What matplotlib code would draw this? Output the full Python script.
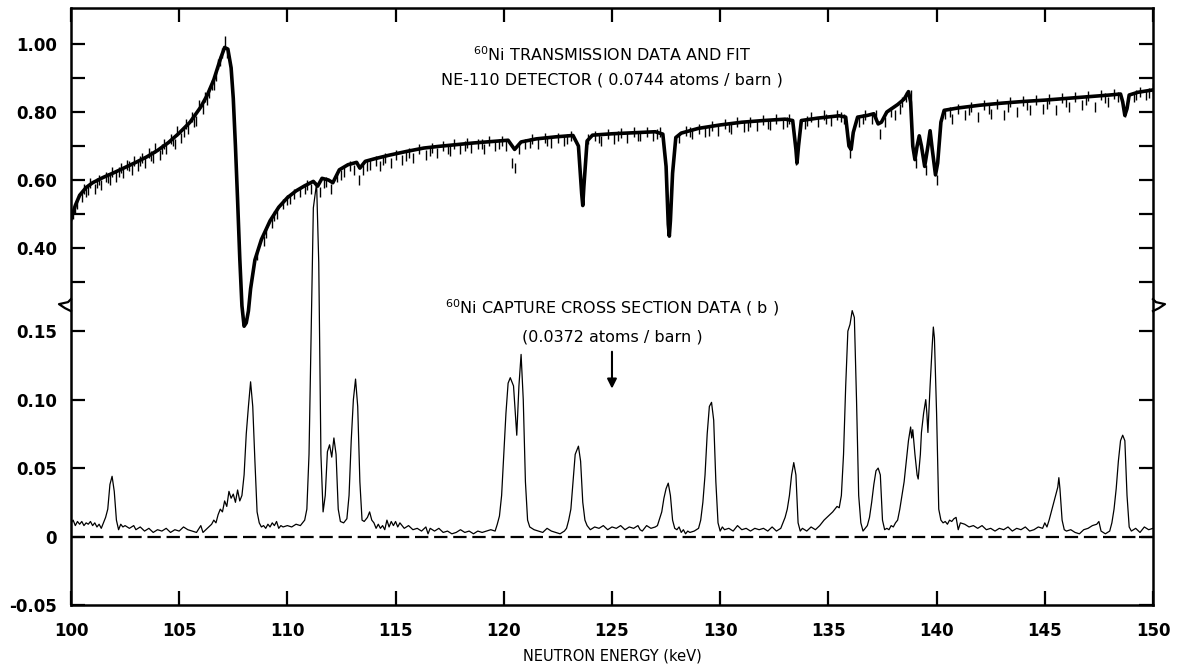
import matplotlib
matplotlib.use("Agg")
import matplotlib.pyplot as plt
from matplotlib.lines import Line2D

plt.rcParams["font.family"] = ["DejaVu Sans"]
plt.rcParams["mathtext.default"] = "regular"

# ---------------------------------------------------------------
# data
# ---------------------------------------------------------------
# transmission fit (upper scale)
fit_energy = [
    100.0, 100.2, 100.4, 100.7, 101.0, 101.5, 102.0, 102.5, 103.0, 103.5,
    104.0, 104.5, 105.0, 105.5, 106.0, 106.3, 106.6, 106.9, 107.1, 107.25,
    107.4, 107.5, 107.6, 107.7, 107.8, 107.9, 108.0, 108.1, 108.2, 108.3,
    108.5, 108.8, 109.2, 109.6, 110.0, 110.4, 110.8, 111.2, 111.4, 111.6,
    111.9, 112.1, 112.4, 112.8, 113.2, 113.35, 113.6, 114.0, 114.7, 115.5,
    116.3, 117.0, 117.8, 118.6, 119.4, 120.2, 120.5, 120.8, 121.5, 122.4,
    123.2, 123.45, 123.6, 123.65, 123.7, 123.85, 124.1, 125.0, 126.0, 127.0,
    127.35, 127.5, 127.6, 127.65, 127.7, 127.8, 127.95, 128.2, 129.0, 130.0,
    131.0, 132.0, 133.0, 133.35, 133.5, 133.55, 133.62, 133.75, 134.5, 135.5,
    135.8, 135.95, 136.05, 136.15, 136.35, 136.8, 137.1, 137.3, 137.45, 137.7,
    138.2, 138.5, 138.7, 138.8, 138.9, 139.0, 139.1, 139.2, 139.3, 139.45,
    139.6, 139.7, 139.8, 139.95, 140.05, 140.2, 140.35, 141.0, 142.0, 143.0,
    144.0, 145.0, 146.0, 147.0, 148.0, 148.5, 148.6, 148.7, 148.8, 148.9,
    149.3, 150.0,
]
fit_trans = [
    0.485, 0.525, 0.555, 0.578, 0.592, 0.608, 0.622, 0.637, 0.652, 0.668,
    0.687, 0.710, 0.738, 0.770, 0.815, 0.850, 0.895, 0.955, 0.990, 0.985,
    0.930, 0.840, 0.700, 0.540, 0.370, 0.230, 0.170, 0.180, 0.215, 0.280,
    0.365, 0.425, 0.480, 0.520, 0.548, 0.568, 0.583, 0.596, 0.582, 0.605,
    0.600, 0.592, 0.630, 0.645, 0.652, 0.635, 0.655, 0.662, 0.673, 0.684,
    0.694, 0.699, 0.704, 0.709, 0.713, 0.717, 0.690, 0.712, 0.721, 0.727,
    0.731, 0.700, 0.560, 0.525, 0.580, 0.715, 0.732, 0.736, 0.739, 0.742,
    0.735, 0.640, 0.470, 0.435, 0.480, 0.620, 0.725, 0.738, 0.752, 0.762,
    0.770, 0.775, 0.779, 0.775, 0.690, 0.650, 0.700, 0.775, 0.782, 0.789,
    0.785, 0.700, 0.690, 0.740, 0.785, 0.790, 0.795, 0.765, 0.770, 0.800,
    0.822, 0.838, 0.860, 0.830, 0.700, 0.660, 0.700, 0.730, 0.700, 0.640,
    0.700, 0.745, 0.690, 0.615, 0.650, 0.770, 0.805, 0.812, 0.820, 0.826,
    0.831, 0.835, 0.840, 0.845, 0.850, 0.853, 0.830, 0.790, 0.810, 0.850,
    0.858, 0.865,
]

# transmission data points (upper scale)
data_energy = [
    100.1, 100.3, 100.5, 100.6, 100.8, 100.9, 101.1, 101.3, 101.4, 101.6,
    101.8, 101.9, 102.1, 102.3, 102.4, 102.6, 102.8, 102.9, 103.1, 103.3,
    103.4, 103.6, 103.8, 103.9, 104.1, 104.3, 104.4, 104.6, 104.8, 104.9,
    105.1, 105.3, 105.4, 105.6, 105.8, 105.9, 106.1, 106.2, 106.4, 106.5,
    106.7, 106.8, 107.0, 107.1, 107.2, 108.6, 108.9, 109.0, 109.3, 109.5,
    109.8, 110.1, 110.3, 110.6, 110.9, 111.1, 111.5, 111.8, 112.0, 112.3,
    112.6, 112.9, 113.1, 113.3, 113.5, 113.8, 114.1, 114.3, 114.5, 114.8,
    115.0, 115.3, 115.6, 115.8, 116.1, 116.4, 116.7, 116.9, 117.2, 117.5,
    117.7, 118.0, 118.3, 118.5, 118.8, 119.1, 119.3, 119.6, 119.9, 120.1,
    120.4, 120.5, 120.7, 121.0, 121.3, 121.6, 121.9, 122.2, 122.5, 122.8,
    123.1, 123.9, 124.2, 124.5, 124.8, 125.1, 125.4, 125.7, 126.0, 126.3,
    126.6, 126.9, 127.2, 128.1, 128.4, 128.7, 129.0, 129.3, 129.6, 129.9,
    130.2, 130.5, 130.8, 131.1, 131.4, 131.7, 132.0, 132.3, 132.6, 132.9,
    133.2, 133.5, 133.9, 134.2, 134.5, 134.8, 135.1, 135.4, 135.7, 136.0,
    136.4, 136.7, 137.0, 137.4, 137.6, 137.9, 138.1, 138.4, 138.6, 138.8,
    139.05, 139.5, 140.0, 140.4, 140.7, 141.0, 141.3, 141.6, 141.9, 142.2,
    142.5, 142.8, 143.1, 143.4, 143.7, 144.0, 144.3, 144.6, 144.9, 145.2,
    145.5, 145.8, 146.1, 146.4, 146.7, 147.0, 147.3, 147.6, 147.9, 148.2,
    148.7, 149.1, 149.4, 149.7, 150.0,
    100.2, 100.7, 101.2, 101.7, 102.2, 102.7, 103.2, 103.7, 104.2, 104.7,
    105.2, 105.7, 106.3, 106.6, 106.9, 109.4, 110.0, 110.8, 111.7, 112.5,
    113.7, 114.4, 115.5, 116.6, 117.4, 118.2, 119.0, 119.8, 121.2, 122.0,
    122.9, 124.4, 125.3, 126.2, 127.1, 128.6, 129.5, 130.4, 131.3, 132.2,
    133.1, 134.0, 134.9, 135.6, 136.6, 137.2, 138.3, 140.6, 141.5, 142.4,
    143.3, 144.2, 145.1, 146.0, 146.9, 147.8, 148.4, 149.2, 149.8,
]
data_trans = [
    0.500, 0.530, 0.550, 0.575, 0.570, 0.590, 0.575, 0.600, 0.585, 0.610,
    0.600, 0.625, 0.610, 0.635, 0.620, 0.645, 0.630, 0.655, 0.640, 0.665,
    0.650, 0.680, 0.665, 0.695, 0.675, 0.705, 0.690, 0.720, 0.705, 0.745,
    0.725, 0.765, 0.750, 0.785, 0.775, 0.820, 0.810, 0.845, 0.855, 0.880,
    0.905, 0.940, 0.975, 1.010, 0.975, 0.380, 0.420, 0.445, 0.475, 0.500,
    0.530, 0.545, 0.560, 0.565, 0.585, 0.575, 0.565, 0.595, 0.575, 0.610,
    0.625, 0.640, 0.630, 0.600, 0.630, 0.645, 0.655, 0.640, 0.665, 0.650,
    0.675, 0.660, 0.680, 0.665, 0.690, 0.675, 0.695, 0.680, 0.700, 0.685,
    0.705, 0.690, 0.710, 0.695, 0.705, 0.690, 0.715, 0.700, 0.715, 0.700,
    0.650, 0.635, 0.690, 0.705, 0.720, 0.705, 0.725, 0.710, 0.725, 0.715,
    0.730, 0.720, 0.730, 0.715, 0.735, 0.720, 0.738, 0.725, 0.740, 0.728,
    0.742, 0.730, 0.740, 0.725, 0.745, 0.735, 0.750, 0.740, 0.760, 0.745,
    0.765, 0.750, 0.770, 0.755, 0.772, 0.758, 0.776, 0.762, 0.778, 0.765,
    0.780, 0.660, 0.765, 0.785, 0.770, 0.790, 0.775, 0.792, 0.780, 0.680,
    0.770, 0.790, 0.780, 0.735, 0.770, 0.800, 0.790, 0.830, 0.845, 0.850,
    0.650, 0.630, 0.600, 0.795, 0.780, 0.810, 0.790, 0.815, 0.785, 0.820,
    0.795, 0.825, 0.790, 0.830, 0.800, 0.832, 0.805, 0.835, 0.810, 0.838,
    0.805, 0.840, 0.815, 0.845, 0.820, 0.848, 0.815, 0.850, 0.830, 0.852,
    0.800, 0.845, 0.860, 0.850, 0.870,
    0.515, 0.565, 0.590, 0.605, 0.625, 0.640, 0.655, 0.670, 0.690, 0.715,
    0.740, 0.770, 0.835, 0.880, 0.950, 0.495, 0.540, 0.575, 0.590, 0.615,
    0.640, 0.660, 0.670, 0.685, 0.690, 0.700, 0.705, 0.705, 0.710, 0.715,
    0.720, 0.725, 0.730, 0.730, 0.735, 0.740, 0.745, 0.755, 0.760, 0.765,
    0.770, 0.775, 0.780, 0.785, 0.780, 0.790, 0.810, 0.800, 0.805, 0.810,
    0.815, 0.820, 0.825, 0.830, 0.835, 0.840, 0.845, 0.850, 0.855,
]

# capture cross section (lower scale, barn)
cap_energy = [
    100.0, 100.1, 100.2, 100.3, 100.4, 100.5, 100.6, 100.7, 100.8, 100.9,
    101.0, 101.1, 101.2, 101.3, 101.4, 101.5, 101.6, 101.7, 101.8, 101.9,
    102.0, 102.1, 102.2, 102.3, 102.4, 102.5, 102.7, 102.9, 103.0, 103.2,
    103.4, 103.6, 103.8, 104.0, 104.2, 104.4, 104.6, 104.8, 105.0, 105.2,
    105.4, 105.6, 105.8, 106.0, 106.1, 106.3, 106.5, 106.6, 106.7, 106.8,
    106.9, 107.0, 107.1, 107.2, 107.3, 107.4, 107.5, 107.6, 107.7, 107.8,
    107.9, 108.0, 108.1, 108.2, 108.3, 108.4, 108.5, 108.6, 108.7, 108.8,
    108.9, 109.0, 109.1, 109.2, 109.3, 109.4, 109.5, 109.6, 109.7, 109.8,
    110.0, 110.2, 110.4, 110.6, 110.8, 110.9, 111.0, 111.1, 111.2, 111.35,
    111.45, 111.55, 111.65, 111.75, 111.85, 111.95, 112.05, 112.15, 112.25, 112.35,
    112.45, 112.6, 112.75, 112.85, 112.95, 113.05, 113.15, 113.25, 113.35, 113.45,
    113.55, 113.7, 113.8, 113.9, 114.0, 114.1, 114.2, 114.3, 114.4, 114.5,
    114.6, 114.7, 114.8, 114.9, 115.0, 115.1, 115.2, 115.4, 115.6, 115.8,
    116.0, 116.2, 116.4, 116.5, 116.6, 116.8, 117.0, 117.2, 117.4, 117.6,
    117.8, 118.0, 118.2, 118.4, 118.6, 118.8, 119.0, 119.2, 119.4, 119.6,
    119.7, 119.8, 119.9, 120.0, 120.1, 120.2, 120.3, 120.45, 120.6, 120.7,
    120.8, 120.9, 121.0, 121.1, 121.2, 121.4, 121.6, 121.8, 122.0, 122.2,
    122.4, 122.6, 122.8, 122.9, 123.0, 123.1, 123.2, 123.3, 123.45, 123.55,
    123.65, 123.75, 123.85, 124.0, 124.2, 124.4, 124.6, 124.8, 125.0, 125.2,
    125.4, 125.6, 125.8, 126.0, 126.2, 126.3, 126.4, 126.6, 126.8, 127.0,
    127.1, 127.2, 127.3, 127.4, 127.5, 127.6, 127.7, 127.8, 127.9, 128.0,
    128.1, 128.2, 128.3, 128.4, 128.5, 128.6, 128.8, 129.0, 129.1, 129.2,
    129.3, 129.4, 129.5, 129.6, 129.7, 129.8, 129.9, 130.0, 130.1, 130.2,
    130.4, 130.6, 130.8, 131.0, 131.2, 131.4, 131.6, 131.8, 132.0, 132.2,
    132.4, 132.6, 132.8, 132.9, 133.0, 133.1, 133.2, 133.3, 133.4, 133.5,
    133.6, 133.7, 133.8, 134.0, 134.2, 134.4, 134.6, 134.8, 135.0, 135.2,
    135.4, 135.5, 135.6, 135.7, 135.8, 135.9, 136.0, 136.1, 136.2, 136.3,
    136.4, 136.5, 136.6, 136.7, 136.8, 136.9, 137.0, 137.1, 137.2, 137.3,
    137.4, 137.5, 137.6, 137.7, 137.8, 137.9, 138.0, 138.1, 138.2, 138.3,
    138.4, 138.5, 138.6, 138.7, 138.8, 138.85, 138.9, 139.0, 139.1, 139.15,
    139.25, 139.3, 139.4, 139.5, 139.55, 139.6, 139.7, 139.8, 139.85, 139.9,
    140.0, 140.1, 140.2, 140.3, 140.4, 140.5, 140.6, 140.7, 140.8, 140.9,
    141.0, 141.1, 141.3, 141.5, 141.7, 141.9, 142.1, 142.3, 142.5, 142.7,
    142.9, 143.1, 143.3, 143.5, 143.7, 143.9, 144.1, 144.3, 144.5, 144.7,
    144.9, 145.0, 145.1, 145.2, 145.3, 145.4, 145.5, 145.6, 145.65, 145.7,
    145.8, 145.9, 146.0, 146.2, 146.4, 146.6, 146.8, 147.0, 147.2, 147.4,
    147.5, 147.6, 147.8, 148.0, 148.1, 148.2, 148.3, 148.4, 148.5, 148.6,
    148.7, 148.8, 148.9, 149.0, 149.2, 149.4, 149.6, 149.8, 150.0,
]
cap_sigma = [
    0.010, 0.012, 0.008, 0.011, 0.009, 0.011, 0.008, 0.010, 0.009, 0.011,
    0.008, 0.010, 0.007, 0.009, 0.006, 0.010, 0.014, 0.020, 0.038, 0.044,
    0.033, 0.012, 0.005, 0.009, 0.007, 0.008, 0.006, 0.008, 0.005, 0.007,
    0.004, 0.006, 0.003, 0.005, 0.004, 0.006, 0.003, 0.005, 0.004, 0.007,
    0.005, 0.004, 0.003, 0.008, 0.003, 0.006, 0.009, 0.012, 0.010, 0.016,
    0.020, 0.018, 0.026, 0.022, 0.033, 0.028, 0.031, 0.025, 0.034, 0.026,
    0.030, 0.045, 0.075, 0.095, 0.113, 0.095, 0.055, 0.018, 0.010, 0.007,
    0.008, 0.006, 0.009, 0.007, 0.010, 0.008, 0.011, 0.006, 0.008, 0.007,
    0.008, 0.007, 0.009, 0.008, 0.012, 0.020, 0.060, 0.150, 0.240, 0.258,
    0.200, 0.060, 0.018, 0.030, 0.062, 0.067, 0.058, 0.072, 0.060, 0.020,
    0.011, 0.010, 0.013, 0.030, 0.070, 0.100, 0.115, 0.095, 0.040, 0.012,
    0.011, 0.014, 0.018, 0.012, 0.010, 0.006, 0.009, 0.006, 0.008, 0.005,
    0.012, 0.007, 0.011, 0.008, 0.011, 0.007, 0.010, 0.006, 0.008, 0.005,
    0.006, 0.004, 0.007, 0.002, 0.006, 0.004, 0.006, 0.003, 0.004, 0.002,
    0.003, 0.005, 0.003, 0.004, 0.002, 0.004, 0.003, 0.004, 0.005, 0.004,
    0.009, 0.015, 0.030, 0.060, 0.090, 0.112, 0.116, 0.110, 0.074, 0.110,
    0.133, 0.100, 0.040, 0.012, 0.007, 0.005, 0.004, 0.003, 0.006, 0.004,
    0.003, 0.002, 0.004, 0.006, 0.012, 0.020, 0.040, 0.060, 0.066, 0.055,
    0.025, 0.012, 0.008, 0.005, 0.007, 0.006, 0.008, 0.005, 0.007, 0.006,
    0.008, 0.005, 0.007, 0.006, 0.008, 0.005, 0.004, 0.008, 0.006, 0.007,
    0.008, 0.013, 0.018, 0.028, 0.035, 0.039, 0.030, 0.012, 0.006, 0.005,
    0.007, 0.003, 0.005, 0.002, 0.004, 0.003, 0.004, 0.006, 0.012, 0.025,
    0.045, 0.075, 0.095, 0.098, 0.085, 0.040, 0.010, 0.004, 0.007, 0.005,
    0.006, 0.004, 0.008, 0.005, 0.006, 0.004, 0.006, 0.005, 0.006, 0.004,
    0.007, 0.004, 0.006, 0.010, 0.014, 0.020, 0.030, 0.045, 0.054, 0.045,
    0.010, 0.004, 0.006, 0.004, 0.007, 0.005, 0.008, 0.012, 0.015, 0.018,
    0.022, 0.021, 0.030, 0.060, 0.110, 0.150, 0.155, 0.165, 0.160, 0.100,
    0.030, 0.010, 0.004, 0.006, 0.008, 0.014, 0.025, 0.038, 0.048, 0.050,
    0.045, 0.012, 0.005, 0.006, 0.005, 0.008, 0.007, 0.010, 0.012, 0.020,
    0.030, 0.040, 0.055, 0.070, 0.080, 0.072, 0.078, 0.060, 0.045, 0.042,
    0.060, 0.076, 0.090, 0.100, 0.090, 0.076, 0.110, 0.140, 0.153, 0.145,
    0.090, 0.020, 0.012, 0.010, 0.011, 0.009, 0.012, 0.011, 0.013, 0.014,
    0.005, 0.010, 0.009, 0.007, 0.008, 0.006, 0.008, 0.005, 0.006, 0.004,
    0.006, 0.005, 0.007, 0.004, 0.006, 0.005, 0.007, 0.004, 0.005, 0.007,
    0.006, 0.010, 0.007, 0.012, 0.018, 0.024, 0.030, 0.036, 0.043, 0.035,
    0.012, 0.005, 0.004, 0.005, 0.003, 0.002, 0.005, 0.006, 0.008, 0.009,
    0.011, 0.004, 0.002, 0.004, 0.010, 0.020, 0.035, 0.055, 0.070, 0.074,
    0.070, 0.030, 0.007, 0.004, 0.006, 0.003, 0.007, 0.005, 0.006,
]

x_ticks = [100, 105, 110, 115, 120, 125, 130, 135, 140, 145, 150]
x_labels = ["100", "105", "110", "115", "120", "125", "130", "135", "140", "145", "150"]
low_ticks = [-0.05, 0.0, 0.05, 0.10, 0.15]
low_labels = ["-0.05", "0", "0.05", "0.10", "0.15"]
up_ticks = [0.40, 0.60, 0.80, 1.00]
up_labels = ["0.40", "0.60", "0.80", "1.00"]
up_minor = [0.30, 0.50, 0.70, 0.90]
arrow_energy = 125.0

# ---------------------------------------------------------------
# figure: two overlaid y scales sharing the energy axis
# ---------------------------------------------------------------
fig = plt.figure(figsize=(11.77, 6.65), dpi=100)
ax = fig.add_axes([0.0603, 0.0902, 0.9193, 0.8978])
ax_up = ax.twinx()

ax.set_xlim(100, 150)
ax.set_ylim(-0.05, 0.386)
ax_up.set_ylim(-0.65, 1.106)

# capture spectrum + zero line
ax.plot(cap_energy, cap_sigma, color="black", lw=0.9)
ax.axhline(0, color="black", lw=1.6, dashes=(6.0, 2.6))
ax.annotate("", xy=(arrow_energy, 0.106), xytext=(arrow_energy, 0.137),
            arrowprops=dict(arrowstyle="-|>", color="black", lw=1.5,
                            mutation_scale=14))

# transmission data and fit
ax_up.plot(data_energy, data_trans, ls="none", marker="|", ms=7,
           mew=1.0, color="black")
ax_up.plot(fit_energy, fit_trans, color="black", lw=2.6,
           solid_joinstyle="round")

# ticks
lab_font = dict(fontsize=12, fontweight="bold")
ax.set_xticks(x_ticks)
ax.set_xticklabels(x_labels, **lab_font)
ax.set_yticks(low_ticks)
ax.set_yticklabels(low_labels, **lab_font)
ax.xaxis.set_ticks_position("both")
ax.yaxis.set_ticks_position("both")
ax.tick_params(direction="in", length=10, width=1.6, pad=10)
ax.tick_params(axis="x", pad=12)

ax_up.set_yticks(up_ticks)
ax_up.set_yticklabels(up_labels, **lab_font)
ax_up.set_yticks(up_minor, minor=True)
ax_up.yaxis.set_ticks_position("both")
ax_up.tick_params(axis="y", which="both", direction="in", length=10,
                  width=1.6, pad=10, labelleft=True, labelright=False)

for sp in ax.spines.values():
    sp.set_linewidth(1.8)
for sp in ax_up.spines.values():
    sp.set_visible(False)

# axis break marks on both sides (small zigzag at the scale change)
u_break = 0.169
dx = 50.0 / 1082.0
dy = 1.0 / 1370.0
for side, sgn in ((100.0, -1), (150.0, 1)):
    xs = [side, side + sgn * 3 * dx, side + sgn * 12 * dx,
          side + sgn * 6 * dx, side]
    ys = [u_break + 6 * dy, u_break + 3 * dy, u_break + 1 * dy,
          u_break - 3 * dy, u_break - 6 * dy]
    ax.add_line(Line2D(xs, ys, color="black", lw=1.6, clip_on=False))

# annotations
ax.set_xlabel("NEUTRON ENERGY (keV)", fontsize=10.5, labelpad=6)
ax_up.text(125.0, 0.97, r"$^{60}$Ni TRANSMISSION DATA AND FIT",
           ha="center", va="center", fontsize=11.5)
ax_up.text(125.0, 0.895, "NE-110 DETECTOR ( 0.0744 atoms / barn )",
           ha="center", va="center", fontsize=11.5)
ax.text(125.0, 0.167, r"$^{60}$Ni CAPTURE CROSS SECTION DATA ( b )",
        ha="center", va="center", fontsize=11.5)
ax.text(125.0, 0.146, "(0.0372 atoms / barn )",
        ha="center", va="center", fontsize=11.5)

fig.savefig("out.png", dpi=100)
